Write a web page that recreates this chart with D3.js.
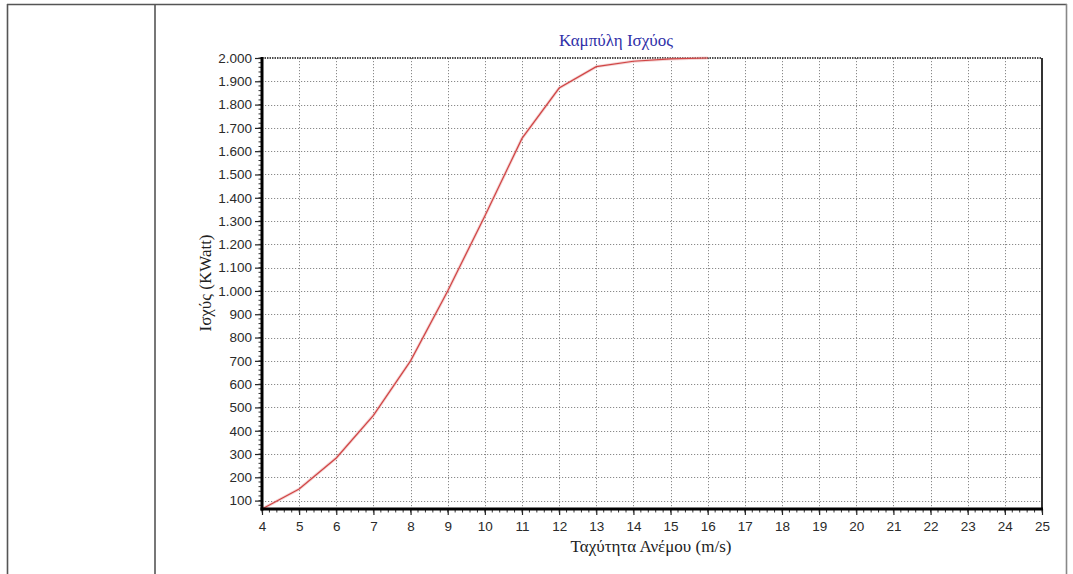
<!DOCTYPE html>
<html><head><meta charset="utf-8">
<script src="https://cdn.jsdelivr.net/npm/d3@7"></script>
<style>
html,body{margin:0;padding:0;background:#fff;}
svg{display:block;}
</style></head>
<body>
<svg id="chart" width="1073" height="574"></svg>
<script>
// ---- data ----
const windSpeed = [4, 5, 6, 7, 8, 9, 10, 11, 12, 13, 14, 15, 16];
const powerKW   = [64, 150, 283, 466, 700, 1000, 1322, 1655, 1871, 1963, 1986, 1996, 2000];
const xTickValues = [4,5,6,7,8,9,10,11,12,13,14,15,16,17,18,19,20,21,22,23,24,25];
const yTickValues = [100,200,300,400,500,600,700,800,900,1000,1100,1200,1300,1400,1500,1600,1700,1800,1900,2000];
const titleText = "Καμπύλη Ισχύος";
const xTitle = "Ταχύτητα Ανέμου (m/s)";
const yTitle = "Ισχύς (KWatt)";

const svg = d3.select("#chart");
const L = 262, R = 1042, T = 58, B = 509;

const x = d3.scaleLinear().domain([4, 25]).range([L, R]);
const y = d3.scaleLinear().domain([64, 2000]).range([B, T]);

const loc = d3.formatLocale({decimal: ",", thousands: ".", grouping: [3], currency: ["", "€"]});
const fmt = loc.format(",d");

// table borders
const tb = svg.append("g").attr("stroke", "#555").attr("stroke-width", 1.6).attr("fill", "none");
tb.append("line").attr("x1", 7).attr("x2", 1067).attr("y1", 4.5).attr("y2", 4.5);
tb.append("line").attr("x1", 7.5).attr("x2", 7.5).attr("y1", 4).attr("y2", 574);
tb.append("line").attr("x1", 155).attr("x2", 155).attr("y1", 4).attr("y2", 574);
tb.append("line").attr("x1", 1066.5).attr("x2", 1066.5).attr("y1", 4).attr("y2", 574).attr("stroke", "#888");

// grid
const grid = svg.append("g").attr("stroke", "#8a8a8a").attr("stroke-width", 1).attr("stroke-dasharray", "1.2,1.8");
grid.selectAll(".gx").data(xTickValues.filter(d => d > 4 && d < 25)).join("line")
  .attr("x1", d => Math.round(x(d)) + 0.5).attr("x2", d => Math.round(x(d)) + 0.5)
  .attr("y1", T).attr("y2", B);
grid.selectAll(".gy").data(yTickValues.filter(d => d < 2000)).join("line")
  .attr("y1", d => Math.round(y(d)) + 0.5).attr("y2", d => Math.round(y(d)) + 0.5)
  .attr("x1", L).attr("x2", R);

// top dotted border, right border
svg.append("line").attr("x1", L).attr("x2", R).attr("y1", T).attr("y2", T)
  .attr("stroke", "#111").attr("stroke-width", 1.5).attr("stroke-dasharray", "1.5,1");
svg.append("line").attr("x1", R).attr("x2", R).attr("y1", T).attr("y2", B)
  .attr("stroke", "#333").attr("stroke-width", 2);

// curve
const line = d3.line().x((d, i) => x(windSpeed[i])).y(d => y(d));
svg.append("path").datum(powerKW).attr("d", line)
  .attr("fill", "none").attr("stroke", "#eaa8a8").attr("stroke-width", 3).attr("opacity", 0.5);
svg.append("path").datum(powerKW).attr("d", line)
  .attr("fill", "none").attr("stroke", "#d04444").attr("stroke-width", 1.2);

// x axis
const xMinor = d3.range(4, 25.001, 0.2);
const xAxisG = svg.append("g").attr("transform", `translate(0,${B})`)
  .call(d3.axisBottom(x).tickValues(xTickValues).tickSize(6).tickFormat(d3.format("d")));
xAxisG.select(".domain").remove();
xAxisG.selectAll(".tick line").attr("stroke", "#222").attr("stroke-width", 1.2);
xAxisG.selectAll(".tick text").attr("font-family", "Liberation Sans, Arial, sans-serif")
  .attr("font-size", 13.5).attr("fill", "#2a2a2a").attr("dy", "0.95em");
svg.append("g").selectAll("line").data(xMinor).join("line")
  .attr("x1", d => x(d)).attr("x2", d => x(d)).attr("y1", B).attr("y2", B + 3.5)
  .attr("stroke", "#333").attr("stroke-width", 1);

// y axis
const yMinor = d3.range(80, 2000.001, 20);
const yAxisG = svg.append("g").attr("transform", `translate(${L},0)`)
  .call(d3.axisLeft(y).tickValues(yTickValues).tickSize(7).tickFormat(fmt));
yAxisG.select(".domain").remove();
yAxisG.selectAll(".tick line").attr("stroke", "#222").attr("stroke-width", 1.2);
yAxisG.selectAll(".tick text").attr("font-family", "Liberation Sans, Arial, sans-serif")
  .attr("font-size", 13.5).attr("fill", "#2a2a2a").attr("x", -10);
svg.append("g").selectAll("line").data(yMinor).join("line")
  .attr("x1", L - 3.5).attr("x2", L).attr("y1", d => y(d)).attr("y2", d => y(d))
  .attr("stroke", "#333").attr("stroke-width", 1);

// thick axis lines
svg.append("line").attr("x1", L).attr("x2", L).attr("y1", T - 1).attr("y2", B + 1.5)
  .attr("stroke", "#000").attr("stroke-width", 3);
svg.append("line").attr("x1", L - 1.5).attr("x2", R + 1).attr("y1", B).attr("y2", B)
  .attr("stroke", "#000").attr("stroke-width", 3);

// titles
svg.append("text").attr("x", 616).attr("y", 46).attr("text-anchor", "middle")
  .attr("font-family", "Liberation Serif, Times New Roman, serif").attr("font-size", 17)
  .attr("fill", "#3030a8").text(titleText);
svg.append("text").attr("x", 651).attr("y", 552).attr("text-anchor", "middle")
  .attr("font-family", "Liberation Serif, Times New Roman, serif").attr("font-size", 17)
  .attr("fill", "#222").text(xTitle);
svg.append("text").attr("transform", "translate(211,283) rotate(-90)").attr("text-anchor", "middle")
  .attr("font-family", "Liberation Serif, Times New Roman, serif").attr("font-size", 17)
  .attr("fill", "#222").text(yTitle);
</script>
</body></html>
